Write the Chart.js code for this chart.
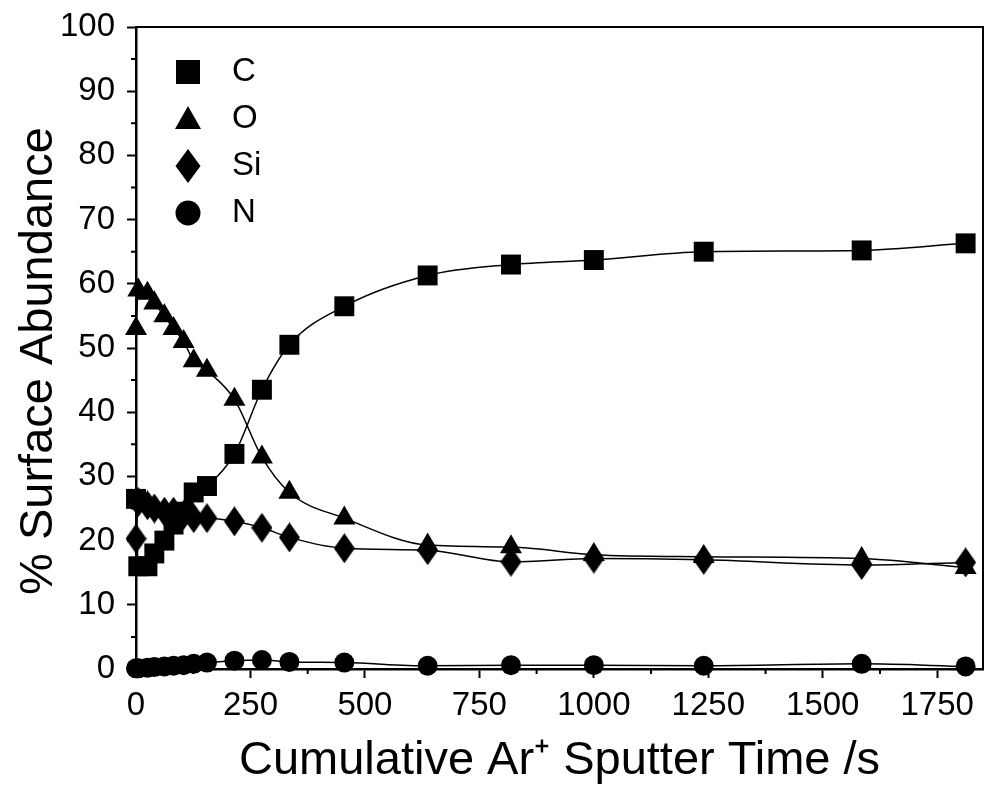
<!DOCTYPE html>
<html>
<head>
<meta charset="utf-8">
<script src="https://cdn.jsdelivr.net/npm/chart.js@4.4.0/dist/chart.umd.min.js"></script>
<style>
html, body { margin: 0; padding: 0; background: #fff; }
</style>
</head>
<body>
<canvas id="chart" width="987" height="799"></canvas>
<script>
// sputter times (s) and surface abundance (%)
var times = [0, 5, 25, 40, 62, 82, 104, 126, 155, 215, 275, 335, 455, 637, 819, 1000, 1240, 1585, 1812];
var carbon = [26.5, 16.0, 16.0, 18.0, 20.0, 22.5, 24.5, 27.5, 28.5, 33.5, 43.5, 50.5, 56.5, 61.3, 63.0, 63.7, 65.0, 65.2, 66.3];
var oxygen = [53.0, 59.0, 58.5, 57.0, 55.0, 53.0, 51.0, 48.0, 46.5, 42.0, 33.0, 27.5, 23.5, 19.3, 19.0, 17.8, 17.5, 17.2, 15.8];
var silicon = [20.3, 26.0, 25.5, 25.0, 24.5, 24.5, 24.0, 23.5, 23.5, 23.0, 22.0, 20.5, 18.8, 18.5, 16.7, 17.2, 17.0, 16.2, 16.6];
var nitrogen = [0.1, 0.1, 0.2, 0.3, 0.4, 0.5, 0.6, 0.8, 1.0, 1.3, 1.4, 1.1, 1.0, 0.5, 0.6, 0.6, 0.5, 0.8, 0.4];
var elements = ['C', 'O', 'Si', 'N'];

var FONT = '"Liberation Sans", Arial, Helvetica, sans-serif';

function makeDiamond(w, h) {
    var c = document.createElement('canvas');
    c.width = w;
    c.height = h;
    var g = c.getContext('2d');
    g.fillStyle = '#000';
    g.beginPath();
    g.moveTo(w / 2, 0);
    g.lineTo(w, h / 2);
    g.lineTo(w / 2, h);
    g.lineTo(0, h / 2);
    g.closePath();
    g.fill();
    return c;
}
var diamond = makeDiamond(21, 30);

function points(ys) {
    return times.map(function (t, i) { return {x: t, y: ys[i]}; });
}

function series(label, ys, style, radius, order) {
    return {
        label: label,
        data: points(ys),
        borderColor: '#000',
        borderWidth: 1.5,
        backgroundColor: '#000',
        pointBackgroundColor: '#000',
        pointBorderWidth: 0,
        pointStyle: style,
        pointRadius: radius,
        cubicInterpolationMode: 'monotone',
        clip: false,
        order: order
    };
}

// legend symbol drawn by hand, same shapes as the markers
function drawSymbol(ctx, kind, x, y, s) {
    ctx.beginPath();
    if (kind === 0) {
        ctx.rect(x - 12 * s, y - 12 * s, 24 * s, 24 * s);
    } else if (kind === 1) {
        ctx.moveTo(x, y - 13 * s);
        ctx.lineTo(x + 13 * s, y + 10 * s);
        ctx.lineTo(x - 13 * s, y + 10 * s);
        ctx.closePath();
    } else if (kind === 2) {
        ctx.moveTo(x, y - 17 * s);
        ctx.lineTo(x + 12.5 * s, y);
        ctx.lineTo(x, y + 17 * s);
        ctx.lineTo(x - 12.5 * s, y);
        ctx.closePath();
    } else {
        ctx.arc(x, y, 12.5 * s, 0, Math.PI * 2);
    }
    ctx.fill();
}

var insideLegend = {
    id: 'insideLegend',
    afterDraw: function (chart) {
        var ctx = chart.ctx, area = chart.chartArea;
        ctx.save();
        ctx.fillStyle = '#000';
        ctx.font = '33px ' + FONT;
        ctx.textBaseline = 'middle';
        ctx.textAlign = 'left';
        elements.forEach(function (name, i) {
            var y = area.top + 45 + i * 47;
            drawSymbol(ctx, i, area.left + 52, y, 1);
            ctx.fillText(name, area.left + 96, y);
        });
        ctx.restore();
    }
};

// box round the plot and the short minor ticks
var frame = {
    id: 'frame',
    afterDraw: function (chart) {
        var ctx = chart.ctx, a = chart.chartArea;
        var xs = chart.scales.x, ys = chart.scales.y;
        ctx.save();
        ctx.strokeStyle = '#000';
        ctx.lineWidth = 2;
        ctx.beginPath();
        ctx.moveTo(a.left, a.top);
        ctx.lineTo(a.right, a.top);
        ctx.lineTo(a.right, a.bottom);
        ctx.stroke();
        ctx.beginPath();
        for (var v = 125; v < xs.max; v += 250) {
            var px = xs.getPixelForValue(v);
            ctx.moveTo(px, a.bottom);
            ctx.lineTo(px, a.bottom + 5);
        }
        for (var w = 5; w < ys.max; w += 10) {
            var py = ys.getPixelForValue(w);
            ctx.moveTo(a.left, py);
            ctx.lineTo(a.left - 5, py);
        }
        ctx.stroke();
        ctx.restore();
    }
};

var ctx = document.getElementById('chart').getContext('2d');
var chart = new Chart(ctx, {
    type: 'line',
    data: {
        datasets: [
            series('C', carbon, 'rect', 14.1, 3),
            series('O', oxygen, 'triangle', 12.7, 1),
            series('Si', silicon, diamond, 11, 0),
            series('N', nitrogen, 'circle', 10, 2)
        ]
    },
    options: {
        responsive: false,
        animation: false,
        devicePixelRatio: 1,
        layout: {autoPadding: false, padding: {top: 27, right: 4, left: 0, bottom: 0}},
        plugins: {
            legend: {display: false},
            tooltip: {enabled: false}
        },
        scales: {
            x: {
                type: 'linear',
                min: 0,
                max: 1850,
                ticks: {
                    stepSize: 250,
                    includeBounds: false,
                    autoSkip: false,
                    maxRotation: 0,
                    padding: 8,
                    color: '#000',
                    font: {family: FONT, size: 33},
                    callback: function (v) { return String(v); }
                },
                grid: {drawOnChartArea: false, drawTicks: true, tickLength: 9, tickColor: '#000', tickWidth: 2},
                border: {display: true, color: '#000', width: 2.5},
                title: {
                    display: true,
                    text: 'Cumulative Ar\u207A Sputter Time /s',
                    color: '#000',
                    font: {family: FONT, size: 47},
                    padding: {top: 0, bottom: 10}
                },
                afterFit: function (s) {
                    s.height = 130;
                    s.paddingLeft = 0;
                    s.paddingRight = 0;
                }
            },
            y: {
                min: 0,
                max: 100,
                ticks: {
                    stepSize: 10,
                    includeBounds: false,
                    padding: 12,
                    color: '#000',
                    font: {family: FONT, size: 33},
                    callback: function (v) { return String(v); }
                },
                grid: {drawOnChartArea: false, drawTicks: true, tickLength: 9, tickColor: '#000', tickWidth: 2},
                border: {display: true, color: '#000', width: 2.5},
                title: {
                    display: true,
                    text: '% Surface Abundance  ',
                    color: '#000',
                    font: {family: FONT, size: 47},
                    padding: {top: 11, bottom: 0}
                },
                afterFit: function (s) {
                    s.width = 136;
                    s.paddingTop = 0;
                    s.paddingBottom = 0;
                }
            }
        }
    },
    plugins: [frame, insideLegend]
});
</script>
</body>
</html>
